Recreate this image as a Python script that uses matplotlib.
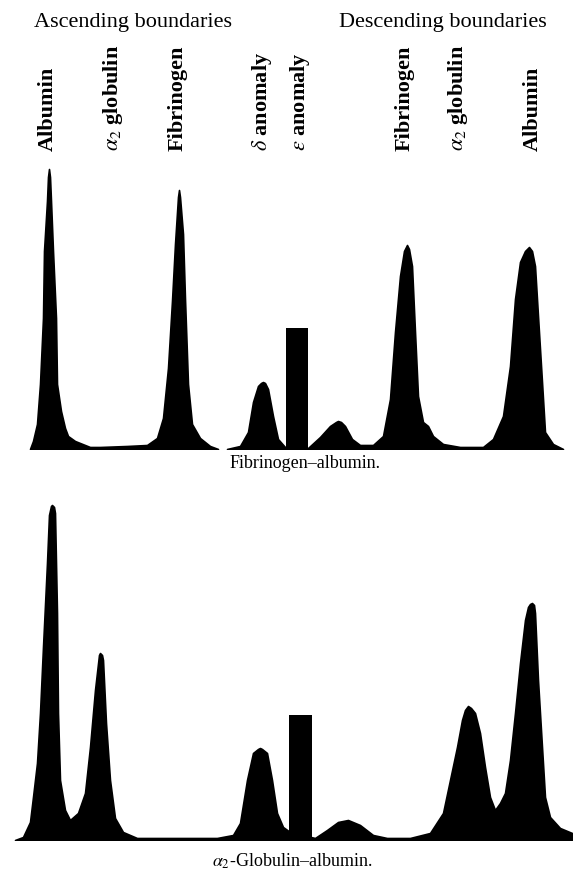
import matplotlib.pyplot as plt

# Fibrinogen-albumin, ascending side (x across plate, height above baseline)
fa_asc_x = [30, 33, 37, 40, 43, 44, 47, 48, 49, 50, 51, 53, 56, 57, 61, 65, 68, 75,
            80, 90, 100, 127, 147, 157, 163, 168, 172, 175, 178, 179, 180, 183, 185,
            188, 192, 200, 210, 218]
fa_asc_h = [0, 8, 25, 65, 131, 198, 248, 272, 280, 272, 248, 198, 131, 65, 38, 21,
            13, 8, 6, 2, 2, 3, 4, 11, 31, 81, 148, 205, 252, 259, 252, 215, 150, 65,
            25, 11, 3, 0]

# Fibrinogen-albumin, descending side (bar drawn separately)
fa_desc_x = [227, 240, 248, 253, 258, 261, 263, 265, 268, 273, 278, 285, 308, 320,
             330, 336, 338, 341, 345, 352, 360, 373, 383, 390, 395, 400, 404, 407,
             409, 412, 415, 418, 423, 428, 433, 443, 460, 483, 493, 503, 510, 515,
             520, 525, 529, 532, 535, 538, 542, 545, 553, 563]
fa_desc_h = [0, 3, 17, 47, 63, 66, 67, 66, 60, 33, 10, 2, 1, 12, 23, 27, 28, 27, 23,
             10, 4, 4, 13, 50, 117, 173, 198, 204, 200, 183, 117, 53, 27, 23, 13, 5,
             2, 2, 10, 33, 83, 150, 187, 198, 202, 198, 183, 133, 67, 17, 5, 0]
fa_bar = (286, 308, 121)  # left, right, height

# alpha2-globulin-albumin, whole plate
ga_x = [15, 23, 30, 33, 37, 40, 43, 47, 49, 51, 52, 54, 55, 57, 58, 60, 65, 70, 78,
        85, 90, 95, 99, 100, 102, 103, 106, 110, 115, 123, 137, 217, 233, 240, 247,
        253, 258, 260, 262, 267, 272, 277, 283, 290, 315, 327, 338, 348, 360, 373,
        387, 410, 430, 443, 450, 457, 462, 465, 468, 471, 475, 480, 485, 490, 495,
        500, 505, 510, 515, 520, 525, 528, 530, 532, 534, 535, 538, 542, 545, 550,
        560, 572]
ga_h = [0, 3, 18, 43, 77, 127, 193, 277, 325, 334, 335, 333, 327, 227, 127, 60, 30,
        20, 27, 47, 93, 150, 185, 187, 185, 180, 117, 60, 22, 8, 2, 2, 5, 17, 60, 87,
        91, 92, 91, 87, 60, 27, 13, 8, 2, 10, 18, 20, 15, 5, 2, 2, 7, 27, 60, 93,
        120, 130, 134, 132, 127, 107, 73, 43, 30, 37, 47, 80, 127, 177, 220, 233,
        236, 237, 235, 227, 160, 93, 43, 23, 12, 7]
ga_bar = (289, 312, 125)

asc_labels = ['Albumin', r'$\alpha_2$ globulin', 'Fibrinogen']
asc_label_x = [48, 113, 178]
desc_labels = [r'$\delta$ anomaly', r'$\epsilon$ anomaly', 'Fibrinogen',
               r'$\alpha_2$ globulin', 'Albumin']
desc_label_x = [262, 300, 405, 458, 533]

W, H = 573, 876
plt.rcParams['font.family'] = 'Liberation Serif'
plt.rcParams['mathtext.fontset'] = 'stix'

fig = plt.figure(figsize=(W / 100, H / 100), dpi=100)


def panel(base_y, top_y):
    ax = fig.add_axes([0, (H - base_y) / H, 1, (base_y - top_y) / H])
    ax.set_xlim(0, W)
    ax.set_ylim(0, base_y - top_y)
    ax.axis('off')
    return ax


ax1 = panel(449, 140)
ax1.fill_between(fa_asc_x, 0, fa_asc_h, color='black', lw=1.2)
ax1.fill_between(fa_desc_x, 0, fa_desc_h, color='black', lw=1.2)
ax1.bar(fa_bar[0], fa_bar[2], width=fa_bar[1] - fa_bar[0], align='edge', color='black')

ax2 = panel(840, 490)
ax2.fill_between(ga_x, 0, ga_h, color='black', lw=1.2)
ax2.bar(ga_bar[0], ga_bar[2], width=ga_bar[1] - ga_bar[0], align='edge', color='black')

# text layer in pixel coordinates
tx = fig.add_axes([0, 0, 1, 1])
tx.set_xlim(0, W)
tx.set_ylim(H, 0)
tx.axis('off')

tx.text(133, 22, 'Ascending boundaries', ha='center', va='center', fontsize=16)
tx.text(443, 22, 'Descending boundaries', ha='center', va='center', fontsize=16)
for lab, x in zip(asc_labels + desc_labels, asc_label_x + desc_label_x):
    tx.text(x, 151, lab, rotation=90, ha='center', va='bottom',
            fontsize=16, fontweight='bold')

tx.text(305, 463, 'Fibrinogen–albumin.', ha='center', va='center', fontsize=13)
tx.text(292, 861, r'$\alpha_2$-Globulin–albumin.', ha='center', va='center', fontsize=13)

fig.savefig('out.png', dpi=100)
